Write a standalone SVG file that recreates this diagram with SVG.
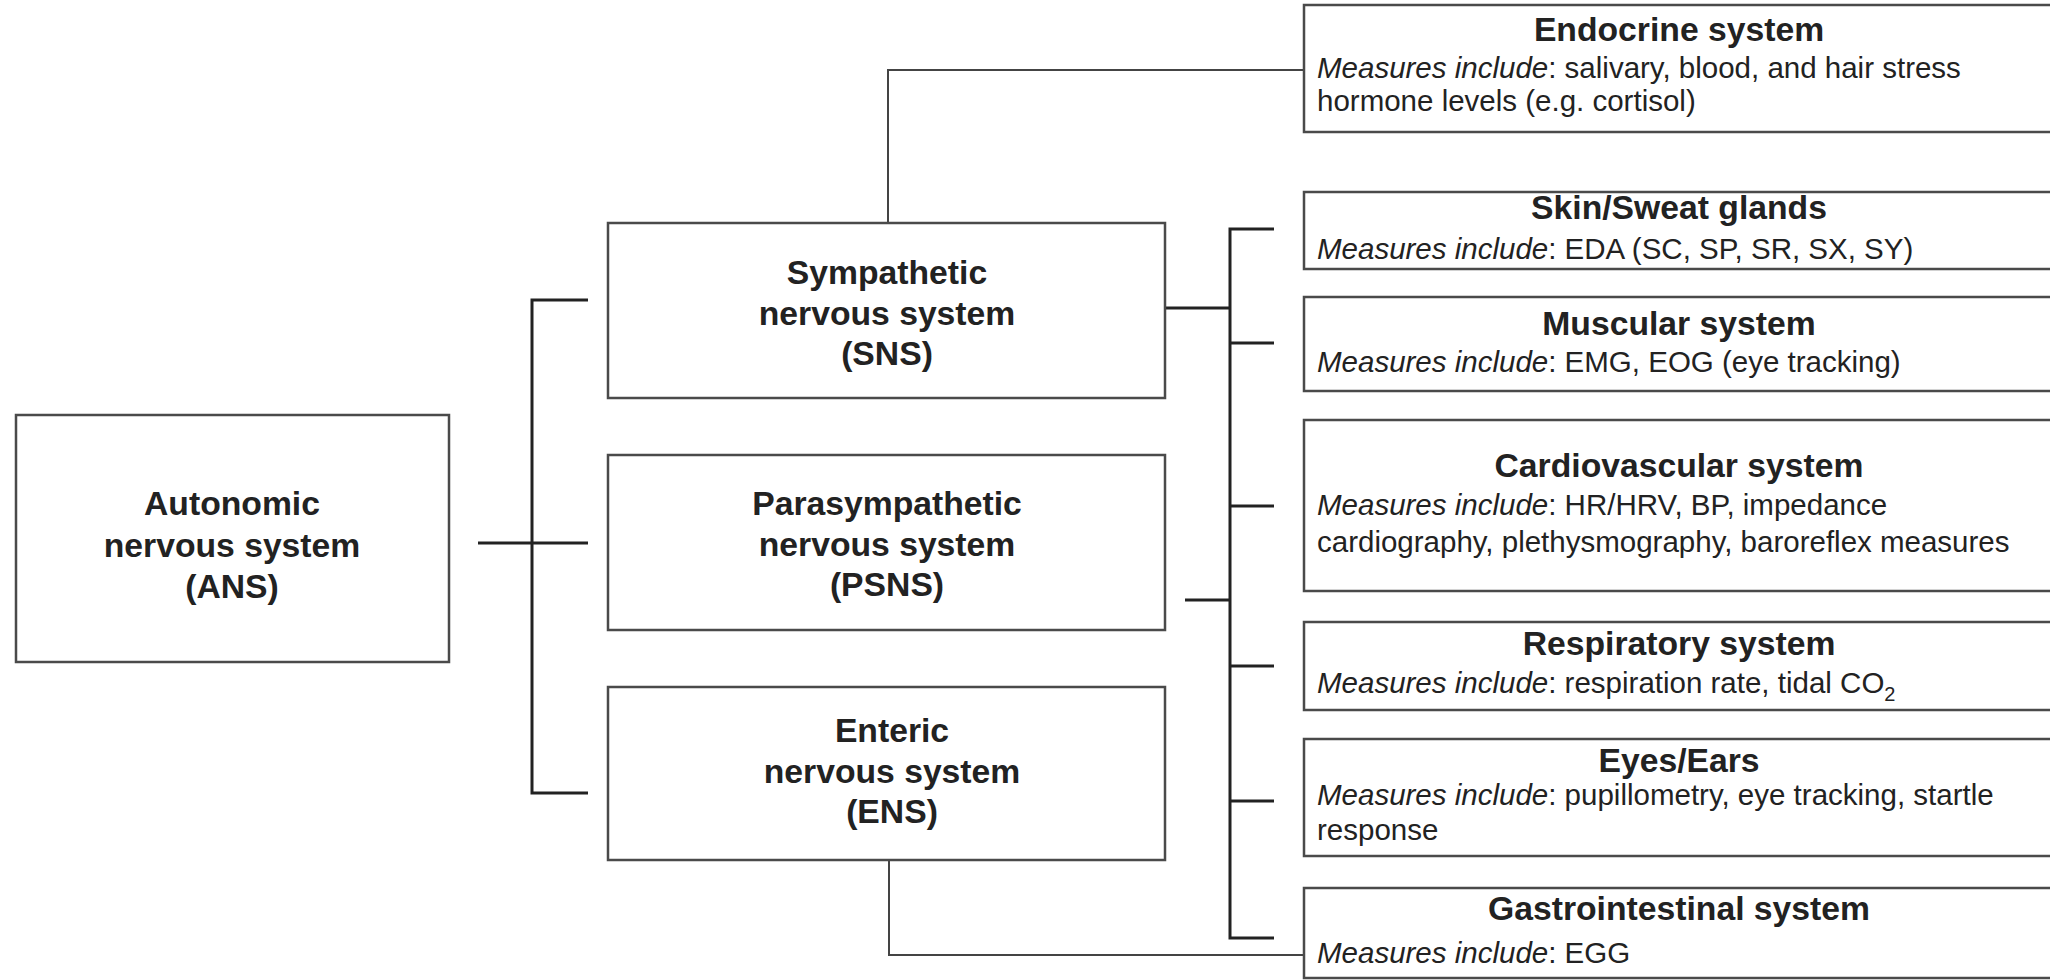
<svg xmlns="http://www.w3.org/2000/svg" width="2050" height="980" viewBox="0 0 2050 980">
<style>
.box{fill:#fff;stroke:#4a4a4a;stroke-width:2.5}
.t{font-family:"Liberation Sans",Arial,sans-serif;font-weight:bold;font-size:33.7px;fill:#222;text-anchor:middle}
.h{font-family:"Liberation Sans",Arial,sans-serif;font-weight:bold;font-size:33.7px;fill:#222;text-anchor:middle}
.b{font-family:"Liberation Sans",Arial,sans-serif;font-size:29.5px;fill:#222}
.i{font-style:italic}
.br{fill:none;stroke:#222;stroke-width:3}
.ln{fill:none;stroke:#444;stroke-width:2}
</style>
<rect width="2050" height="980" fill="#fff"/>
<g id="connectors">
<path class="br" d="M478,543 H588"/>
<path class="br" d="M588,300 H532 V793 H588"/>
<path class="ln" d="M888,223 V70 H1305"/>
<path class="br" d="M1165,308 H1230"/>
<path class="br" d="M1274,229 H1230 V938 H1274"/>
<path class="br" d="M1230,343 H1274 M1230,506 H1274 M1230,666 H1274 M1230,801 H1274"/>
<path class="br" d="M1185,600 H1230"/>
<path class="ln" d="M889,860 V955 H1305"/>
</g>
<g id="ans">
<rect class="box" x="16" y="415" width="433" height="247"/>
<text class="t" x="232" y="515">Autonomic</text>
<text class="t" x="232" y="557">nervous system</text>
<text class="t" x="232" y="598">(ANS)</text>
</g>
<g id="sns">
<rect class="box" x="608" y="223" width="557" height="175"/>
<text class="t" x="887" y="284">Sympathetic</text>
<text class="t" x="887" y="325">nervous system</text>
<text class="t" x="887" y="365">(SNS)</text>
</g>
<g id="psns">
<rect class="box" x="608" y="455" width="557" height="175"/>
<text class="t" x="887" y="515">Parasympathetic</text>
<text class="t" x="887" y="556">nervous system</text>
<text class="t" x="887" y="596">(PSNS)</text>
</g>
<g id="ens">
<rect class="box" x="608" y="687" width="557" height="173"/>
<text class="t" x="892" y="742">Enteric</text>
<text class="t" x="892" y="783">nervous system</text>
<text class="t" x="892" y="823">(ENS)</text>
</g>
<g id="endocrine">
<rect class="box" x="1304" y="5" width="760" height="127"/>
<text class="h" x="1679" y="41">Endocrine system</text>
<text class="b" x="1317" y="78"><tspan class="i">Measures include</tspan>: salivary, blood, and hair stress</text>
<text class="b" x="1317" y="111">hormone levels (e.g. cortisol)</text>
</g>
<g id="skin">
<rect class="box" x="1304" y="192" width="760" height="77"/>
<text class="h" x="1679" y="219">Skin/Sweat glands</text>
<text class="b" x="1317" y="259"><tspan class="i">Measures include</tspan>: EDA (SC, SP, SR, SX, SY)</text>
</g>
<g id="muscular">
<rect class="box" x="1304" y="297" width="760" height="94"/>
<text class="h" x="1679" y="335">Muscular system</text>
<text class="b" x="1317" y="372"><tspan class="i">Measures include</tspan>: EMG, EOG (eye tracking)</text>
</g>
<g id="cardio">
<rect class="box" x="1304" y="420" width="760" height="171"/>
<text class="h" x="1679" y="477">Cardiovascular system</text>
<text class="b" x="1317" y="515"><tspan class="i">Measures include</tspan>: HR/HRV, BP, impedance</text>
<text class="b" x="1317" y="552">cardiography, plethysmography, baroreflex measures</text>
</g>
<g id="respiratory">
<rect class="box" x="1304" y="622" width="760" height="88"/>
<text class="h" x="1679" y="655">Respiratory system</text>
<text class="b" x="1317" y="693"><tspan class="i">Measures include</tspan>: respiration rate, tidal CO<tspan dy="8" font-size="20">2</tspan></text>
</g>
<g id="eyes">
<rect class="box" x="1304" y="739" width="760" height="117"/>
<text class="h" x="1679" y="772">Eyes/Ears</text>
<text class="b" x="1317" y="805"><tspan class="i">Measures include</tspan>: pupillometry, eye tracking, startle</text>
<text class="b" x="1317" y="840">response</text>
</g>
<g id="gi">
<rect class="box" x="1304" y="888" width="760" height="90"/>
<text class="h" x="1679" y="920">Gastrointestinal system</text>
<text class="b" x="1317" y="963"><tspan class="i">Measures include</tspan>: EGG</text>
</g>
</svg>
